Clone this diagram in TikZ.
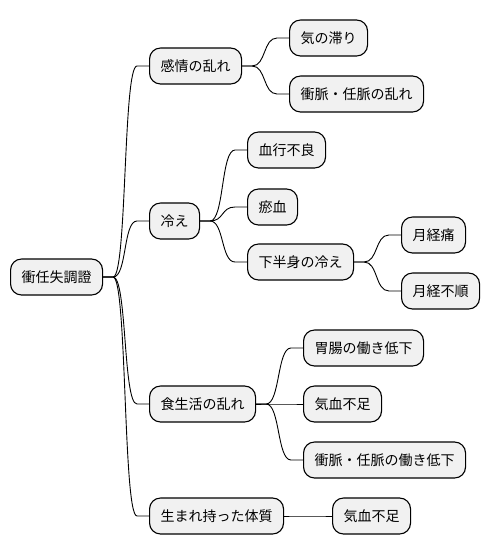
\documentclass[tikz,border=0pt]{standalone}
\usepackage{fontspec}
\setmainfont{Noto Sans CJK JP}
\usepackage{xcolor}
\usepackage{tikz}
\usetikzlibrary{calc}

\definecolor{boxfill}{HTML}{F1F1F1}

\tikzset{
  topic/.style={draw, line width=1.1pt, fill=boxfill, rounded corners=11pt,
    anchor=west, minimum height=36pt, inner xsep=11pt,
    font=\fontsize{14}{16}\selectfont},
  branch/.style={line width=0.9pt}
}

\begin{document}
\begin{tikzpicture}[x=1pt, y=-1pt]
\useasboundingbox (0,0) rectangle (488,555);

% root
\node[topic] (root) at (10,277) {衝任失調證};

% first level
\node[topic] (kanjo) at (149,66) {感情の乱れ};
\node[topic] (hie) at (149,221) {冷え};
\node[topic] (shoku) at (149,404) {食生活の乱れ};
\node[topic] (taishitsu) at (149,516) {生まれ持った体質};

% second level
\node[topic] (kitodo) at (289,38) {気の滞り};
\node[topic] (shomyakuA) at (289,94) {衝脈・任脈の乱れ};
\node[topic] (kekko) at (247,150) {血行不良};
\node[topic] (oketsu) at (247,207) {瘀血};
\node[topic] (kahanshin) at (247,262) {下半身の冷え};
\node[topic] (ichou) at (303,348) {胃腸の働き低下};
\node[topic] (kiketsuA) at (303,404) {気血不足};
\node[topic] (shomyakuB) at (303,460) {衝脈・任脈の働き低下};
\node[topic] (kiketsuB) at (332,516) {気血不足};

% third level
\node[topic] (tsu) at (401,235) {月経痛};
\node[topic] (fujun) at (401,291) {月経不順};

% branches
\foreach \a/\b in {root/kanjo, root/hie, root/shoku, root/taishitsu,
    kanjo/kitodo, kanjo/shomyakuA, hie/kekko, hie/oketsu, hie/kahanshin,
    kahanshin/tsu, kahanshin/fujun, shoku/ichou, shoku/kiketsuA,
    shoku/shomyakuB, taishitsu/kiketsuB}
  \draw[branch] (\a.east) -- ++(10,0)
    .. controls +(14,0) and ($(\b.west)+(-26,0)$) .. ($(\b.west)+(-12,0)$)
    -- (\b.west);
\end{tikzpicture}
\end{document}
